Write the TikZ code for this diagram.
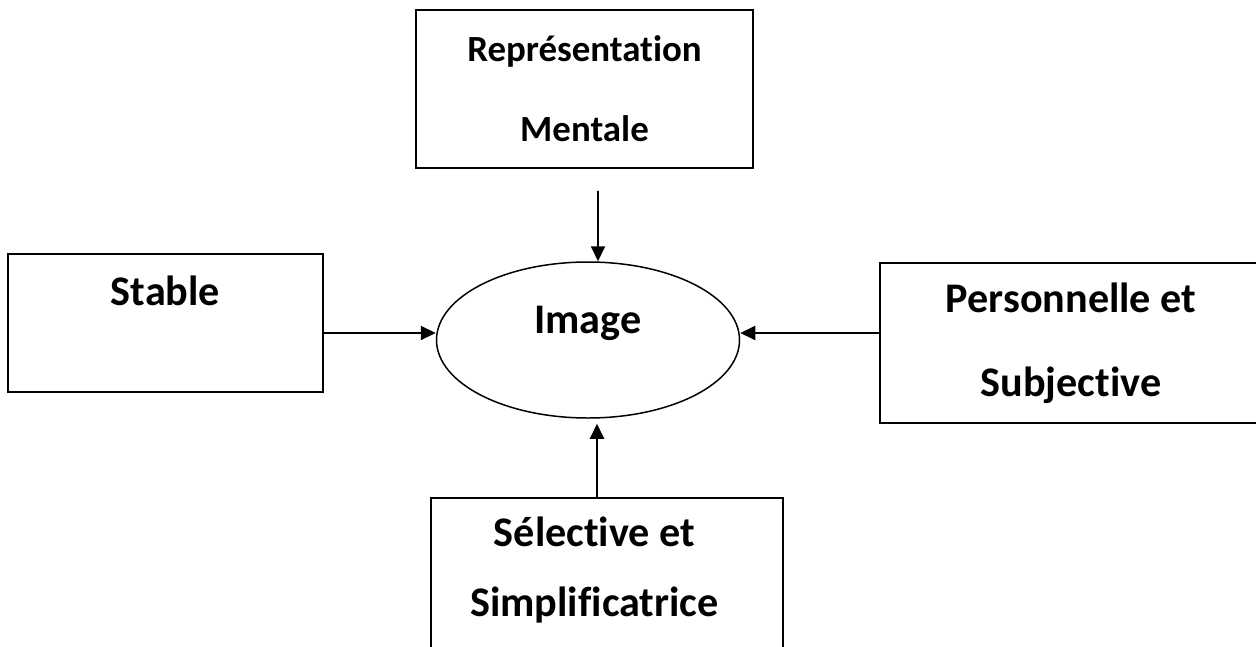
\documentclass[tikz,border=0pt]{standalone}
\usepackage{fontspec}
\setmainfont[Ligatures=NoCommon]{Carlito}
\usetikzlibrary{shapes.geometric,arrows.meta,positioning}
\tikzset{
  cbox/.style={draw,rectangle,line width=1.1pt,align=center,
               font=\fontsize{24pt}{47.8pt}\selectfont\bfseries},
  cell/.style={draw,ellipse,line width=0.85pt,minimum width=6.06cm,minimum height=3.12cm,
               font=\fontsize{24pt}{28pt}\selectfont\bfseries},
  arr/.style={-{Triangle[length=0.3cm,width=0.28cm]},line width=1.1pt},
}
\begin{document}
\begin{tikzpicture}
  \useasboundingbox (0,0) rectangle (25.12,12.92);
  \clip (0,0) rectangle (25.12,12.92);
  % centre
  \node[cell,text height=0.5cm,text depth=0.78cm] (img) at (11.76,6.12) {Image};
  % around it
  \node[cbox,minimum width=6.74cm,minimum height=3.16cm,
        font=\fontsize{21pt}{45.5pt}\selectfont\bfseries] (rep) at (11.69,11.14) {Représentation\\Mentale};
  \node[cbox,minimum width=6.3cm,minimum height=2.76cm,text height=0.5cm,text depth=1.22cm] (stab) at (3.31,6.46) {Stable};
  \node[cbox,minimum width=7.64cm,minimum height=3.2cm] (pers) at (21.42,6.06) {Personnelle et\\Subjective};
  \node[cbox,anchor=north,minimum width=7.04cm,minimum height=3.2cm,text depth=0.45cm,
        font=\fontsize{24pt}{39.8pt}\selectfont\bfseries] (sel) at (12.14,2.98)
        {Sélective et\hspace{0.5cm}\mbox{}\\Simplificatrice\hspace{0.5cm}\mbox{}};
  \coordinate (li) at ([yshift=0.14cm]img.west);
  \coordinate (ri) at ([yshift=0.14cm]img.east);
  \draw[arr] ([xshift=0.27cm,yshift=-0.44cm]rep.south) -- ([xshift=0.2cm]img.north);
  \draw[arr] (stab.east |- li) -- (li);
  \draw[arr] (pers.west |- ri) -- (ri);
  \draw[arr] ([xshift=-0.2cm]sel.north) -- ([xshift=0.18cm,yshift=-0.1cm]img.south);
\end{tikzpicture}
\end{document}
